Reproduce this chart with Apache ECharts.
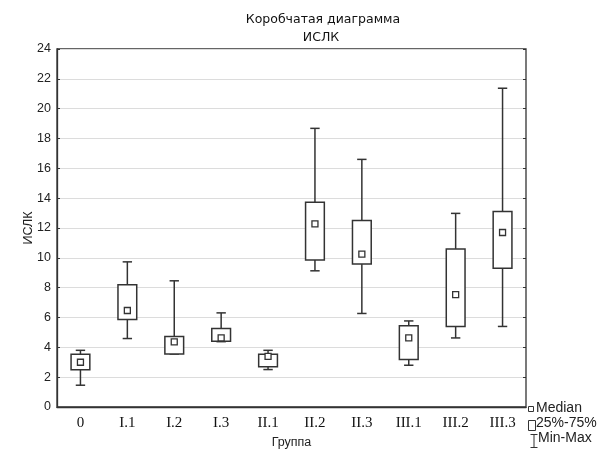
<!DOCTYPE html>
<html>
<head>
<meta charset="utf-8">
<script src="https://cdn.jsdelivr.net/npm/echarts@6/dist/echarts.min.js"></script>
<style>
  html, body { margin: 0; padding: 0; background: #fff; }
  #chart { width: 602px; height: 452px; }
</style>
</head>
<body>
<div id="chart"></div>
<script>
// Groups and per-group box statistics of ИСЛК
const categories = ['0', 'I.1', 'I.2', 'I.3', 'II.1', 'II.2', 'II.3', 'III.1', 'III.2', 'III.3'];
const minVals    = [1.46, 4.59, 3.55, 4.38, 2.51, 9.13, 6.27, 2.80, 4.63, 5.40];
const q1Vals     = [2.50, 5.86, 3.55, 4.41, 2.69, 9.85, 9.58, 3.18, 5.40, 9.31];
const medianVals = [3.00, 6.47, 4.36, 4.63, 3.40, 12.28, 10.25, 4.63, 7.54, 11.70];
const q3Vals     = [3.54, 8.20, 4.72, 5.26, 3.54, 13.72, 12.51, 5.44, 10.60, 13.11];
const maxVals    = [3.80, 9.73, 8.46, 6.31, 3.80, 18.68, 16.60, 5.77, 12.98, 21.37];
const yTicks = { min: 0, max: 24, interval: 2 };

const INK = '#333';
const rows = categories.map((c, i) => [i, minVals[i], q1Vals[i], medianVals[i], q3Vals[i], maxVals[i]]);

function renderBox(params, api) {
  const idx = api.value(0);
  const band = api.size([1, 0])[0];
  const boxW = band * 0.4;
  const capW = band * 0.2;
  const pMin = api.coord([idx, api.value(1)]);
  const pQ1 = api.coord([idx, api.value(2)]);
  const pMed = api.coord([idx, api.value(3)]);
  const pQ3 = api.coord([idx, api.value(4)]);
  const pMax = api.coord([idx, api.value(5)]);
  const x = pMed[0];
  const line = { stroke: INK, lineWidth: 1.5, fill: null };
  const children = [];
  // upper whisker with cap
  children.push({ type: 'line', shape: { x1: x, y1: pQ3[1], x2: x, y2: pMax[1] }, style: line });
  children.push({ type: 'line', shape: { x1: x - capW / 2, y1: pMax[1], x2: x + capW / 2, y2: pMax[1] }, style: line });
  // lower whisker with cap
  children.push({ type: 'line', shape: { x1: x, y1: pQ1[1], x2: x, y2: pMin[1] }, style: line });
  children.push({ type: 'line', shape: { x1: x - capW / 2, y1: pMin[1], x2: x + capW / 2, y2: pMin[1] }, style: line });
  // interquartile box
  children.push({ type: 'rect', shape: { x: x - boxW / 2, y: pQ3[1], width: boxW, height: pQ1[1] - pQ3[1] },
    style: { stroke: INK, lineWidth: 1.5, fill: '#fff' } });
  // median marker
  const m = 6;
  children.push({ type: 'rect', shape: { x: x - m / 2, y: pMed[1] - m / 2, width: m, height: m },
    style: { stroke: INK, lineWidth: 1.3, fill: '#fff' } });
  return { type: 'group', children };
}

const chart = echarts.init(document.getElementById('chart'), null, { renderer: 'canvas' });

const legendText = { fill: '#222', font: '14px "Liberation Sans", Arial, sans-serif', textVerticalAlign: 'middle' };
const titleFont = { fontFamily: '"DejaVu Sans", Verdana, sans-serif', fontSize: 12.5, fontWeight: 'normal', color: '#111' };

chart.setOption({
  backgroundColor: '#fff',
  animation: false,
  title: [
    { text: 'Коробчатая диаграмма', left: 318, top: 8, textAlign: 'center', textStyle: titleFont },
    { text: 'ИСЛК', left: 316, top: 26, textAlign: 'center', textStyle: titleFont }
  ],
  grid: {
    left: 57, right: 76, top: 49, bottom: 45,
    outerBoundsMode: 'none', containLabel: false,
    show: true, borderColor: INK, borderWidth: 1.3, backgroundColor: '#fff'
  },
  xAxis: [
    {
      type: 'category', data: categories, boundaryGap: true,
      name: 'Группа', nameLocation: 'middle', nameGap: 29, nameMoveOverlap: false,
      nameTextStyle: { fontFamily: '"Liberation Sans", Arial, sans-serif', fontSize: 12.5, color: '#222' },
      axisLine: { lineStyle: { color: INK, width: 1.3 } },
      axisTick: { inside: true, alignWithLabel: true, length: 3, lineStyle: { color: INK } },
      axisLabel: { fontFamily: '"Liberation Serif", "Times New Roman", serif', fontSize: 15, color: '#111', margin: 9 },
      splitLine: { show: false }
    },
    {
      type: 'category', data: categories, position: 'top', boundaryGap: true,
      axisLine: { show: false },
      axisTick: { inside: true, alignWithLabel: true, length: 3, lineStyle: { color: INK } },
      axisLabel: { show: false }
    }
  ],
  yAxis: [
    {
      type: 'value', min: yTicks.min, max: yTicks.max, interval: yTicks.interval,
      name: 'ИСЛК', nameLocation: 'middle', nameGap: 22, nameMoveOverlap: false,
      nameTextStyle: { fontFamily: '"Liberation Sans", Arial, sans-serif', fontSize: 12.5, color: '#222' },
      axisLine: { show: true, lineStyle: { color: INK, width: 1.3 } },
      axisTick: { show: true, inside: true, length: 3, lineStyle: { color: INK } },
      axisLabel: { fontFamily: '"Liberation Sans", Arial, sans-serif', fontSize: 12.5, color: '#222', margin: 6 },
      splitLine: { show: true, lineStyle: { color: '#dcdcdc', width: 1 } }
    },
    {
      type: 'value', min: yTicks.min, max: yTicks.max, interval: yTicks.interval, position: 'right',
      axisLine: { show: false },
      axisTick: { show: true, inside: true, length: 3, lineStyle: { color: INK } },
      axisLabel: { show: false },
      splitLine: { show: false }
    }
  ],
  series: [{
    type: 'custom',
    xAxisIndex: 0, yAxisIndex: 0,
    data: rows,
    encode: { x: 0, y: [1, 2, 3, 4, 5] },
    renderItem: renderBox,
    z: 5
  }],
  graphic: [
    // legend: median marker
    { type: 'rect', left: 528, top: 406, shape: { width: 5, height: 5 }, style: { stroke: INK, fill: '#fff', lineWidth: 1 } },
    { type: 'text', left: 536, top: 401, style: Object.assign({ text: 'Median' }, legendText) },
    // legend: quartile box
    { type: 'rect', left: 528, top: 420, shape: { width: 7, height: 10 }, style: { stroke: INK, fill: '#fff', lineWidth: 1 } },
    { type: 'text', left: 536, top: 416, style: Object.assign({ text: '25%-75%' }, legendText) },
    // legend: whisker range
    { type: 'group', left: 528, top: 432, children: [
      { type: 'line', shape: { x1: 0, y1: 0.5, x2: 7, y2: 0.5 }, style: { stroke: INK, lineWidth: 1 } },
      { type: 'line', shape: { x1: 3.5, y1: 0.5, x2: 3.5, y2: 13.5 }, style: { stroke: INK, lineWidth: 1 } },
      { type: 'line', shape: { x1: 0, y1: 13.5, x2: 7, y2: 13.5 }, style: { stroke: INK, lineWidth: 1 } }
    ] },
    { type: 'text', left: 538, top: 431, style: Object.assign({ text: 'Min-Max' }, legendText) }
  ]
});
</script>
</body>
</html>
